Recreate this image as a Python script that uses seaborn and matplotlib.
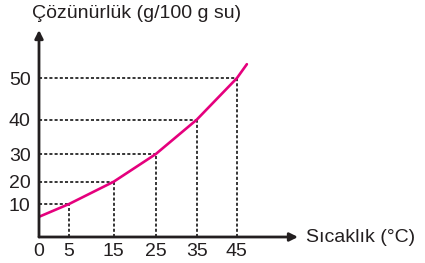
import numpy as np
import pandas as pd
import matplotlib
matplotlib.use("Agg")
import matplotlib.pyplot as plt
import seaborn as sns

# ---- data ----
temps = [0, 5, 15, 25, 35, 45, 47.5]
solubility = [4.2, 10, 20, 30, 40, 50, 53]
mark_temps = [5, 15, 25, 35, 45]
mark_sol = [10, 20, 30, 40, 50]
xticks = [0, 5, 15, 25, 35, 45]
yticks = [10, 20, 30, 40, 50]
xlabel = "Sıcaklık (°C)"
ylabel = "Çözünürlük (g/100 g su)"

sns.set_theme(style="white")
plt.rcParams["font.family"] = ["Liberation Sans", "DejaVu Sans"]

fig = plt.figure(figsize=(4.25, 2.63), dpi=100)
ax = fig.add_axes([39 / 425, 26 / 263, 259 / 425, 207 / 263])

# the hand-drawn original has uneven axes: mimic with smooth monotone function scales
_ya, _yb, _yc = -0.352, 0.0417, 10.23
def yfwd(v):
    v = np.asarray(v, float)
    a = np.abs(v)
    return np.sign(v) * (_ya * a + _yb * a * a + _yc * np.sqrt(a))
_grid = np.linspace(0, 200, 20001)
_gridp = yfwd(_grid)
def yinv(p):
    p = np.asarray(p, float)
    return np.sign(p) * np.interp(np.abs(p), _gridp, _grid)

C, D = 3.6, 5.37
def xfwd(t):
    t = np.asarray(t, float)
    return np.sign(t) * (C * np.abs(t) + D * np.sqrt(np.abs(t)))
def xinv(p):
    p = np.asarray(p, float)
    u = (-D + np.sqrt(D * D + 4 * C * np.abs(p))) / (2 * C)
    return np.sign(p) * u * u

ax.set_yscale("function", functions=(yfwd, yinv))
ax.set_xscale("function", functions=(xfwd, xinv))

df = pd.DataFrame({"t": temps, "s": solubility})
ax.vlines(mark_temps, 0, mark_sol, colors="black", linestyles=(0, (2, 1.4)), lw=1.1)
ax.hlines(mark_sol, 0, mark_temps, colors="black", linestyles=(0, (2, 1.4)), lw=1.1)
sns.lineplot(data=df, x="t", y="s", ax=ax, color="#E5007D", lw=1.9, sort=False)

ax.set_xlim(0, 60.4)
ax.set_ylim(0, 59.8)
for s in ax.spines.values():
    s.set_visible(False)
ax.set_xticks(xticks)
ax.set_xticklabels([str(v) for v in xticks])
ax.set_yticks(yticks)
ax.set_yticklabels([str(v) for v in yticks])
ax.xaxis.set_minor_locator(matplotlib.ticker.NullLocator())
ax.yaxis.set_minor_locator(matplotlib.ticker.NullLocator())
ax.tick_params(axis="x", length=0, labelsize=14, pad=4, colors="#231f20")
ax.tick_params(axis="y", length=0, labelsize=14, pad=6, colors="#231f20")
ax.set_xlabel("")
ax.set_ylabel("")
ax.grid(False)

arrow = dict(arrowstyle="-|>", lw=2, color="#231f20", mutation_scale=12,
             shrinkA=0, shrinkB=0)
ax.annotate("", xy=(1, 0), xytext=(0, 0), xycoords="axes fraction",
            arrowprops=arrow, annotation_clip=False)
ax.annotate("", xy=(0, 1), xytext=(0, 0), xycoords="axes fraction",
            arrowprops=arrow, annotation_clip=False)

ax.text(1.031, 0, xlabel, transform=ax.transAxes, ha="left", va="center",
        fontsize=14, color="#231f20")
fig.text(32 / 425, 1 - 13 / 263, ylabel, ha="left", va="center",
         fontsize=14, color="#231f20")

fig.savefig("out.png", dpi=100)
